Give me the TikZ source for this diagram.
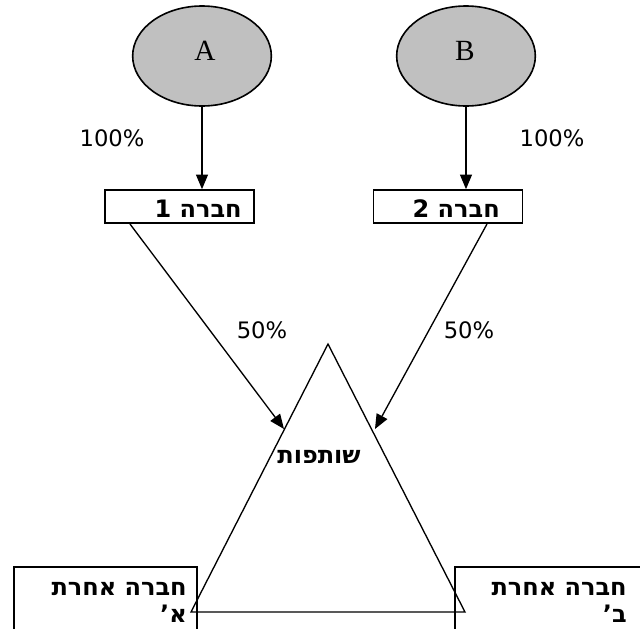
\documentclass[tikz,border=0pt]{standalone}
\usepackage{fontspec}
\setmainfont{Liberation Serif}
\newfontfamily\hebfont[Script=Hebrew]{DejaVu Sans}
\newfontfamily\numfont{DejaVu Sans}
\TeXXeTstate=1
\usetikzlibrary{shapes.geometric,arrows.meta}
\definecolor{ellgray}{HTML}{C0C0C0}
\begin{document}
\begin{tikzpicture}[x=0.75pt,y=-0.75pt,
  owner/.style={ellipse,draw,line width=1.2pt,fill=ellgray,inner sep=0pt,
    minimum width=104pt,minimum height=75pt},
  ownertext/.style={font=\fontsize{22}{24}\selectfont,inner sep=0pt},
  cobox/.style={draw,line width=1.2pt,inner sep=0pt,minimum width=111.75pt,minimum height=24.75pt},
  heb/.style={font=\hebfont\bfseries\fontsize{18}{22}\selectfont,inner sep=0pt},
  pct/.style={font=\numfont\fontsize{17}{20}\selectfont,inner sep=0pt},
  arr/.style={line width=1pt,-{Triangle[length=11pt,width=9pt]}}]
\useasboundingbox (0,0) rectangle (640,629);
% owners
\node[owner] (A) at (202,56) {};
\node[owner] (B) at (466,56) {};
\node[ownertext] (At) at (205,51) {A};
\node[ownertext] (Bt) at (465,51) {B};
% companies
\node[cobox] (b1) at (179.5,206.5) {};
\node[cobox] (b2) at (448,206.5) {};
\node[heb,anchor=base east] (t1) at (242,217) {\beginR חברה 1\endR};
\node[heb,anchor=base east] (t2) at (500,217) {\beginR חברה 2\endR};
% partnership triangle
\coordinate (apex) at (328,344);
\coordinate (bl) at (191,612);
\coordinate (br) at (465,612);
\draw[line width=1pt] (apex) -- (bl) -- (br) -- cycle;
\node[heb] (p) at (319,457) {\beginR שותפות\endR};
% percentages
\node[pct] (p1) at (112,138) {100\%};
\node[pct] (p2) at (552,138) {100\%};
\node[pct] (p3) at (262,330) {50\%};
\node[pct] (p4) at (469,330) {50\%};
% arrows
\draw[arr] (A.south) -- (A.south |- b1.north);
\draw[arr] (B.south) -- (B.south |- b2.north);
\coordinate (s1) at (130,224);
\coordinate (e1) at (284,429);
\coordinate (s2) at (487,224);
\coordinate (e2) at (375,429);
\draw[arr] (s1) -- (e1);
\draw[arr] (s2) -- (e2);
% other companies
\draw[line width=1.2pt] (14,660) |- (197,567) -- (197,660);
\draw[line width=1.2pt] (455,660) |- (646,567) -- (646,660);
\node[heb,anchor=base east] (oa1) at (187,595) {\beginR חברה אחרת\endR};
\node[heb,anchor=base east] (oa2) at (187,622) {\beginR א’\endR};
\node[heb,anchor=base east] (ob1) at (627,595) {\beginR חברה אחרת\endR};
\node[heb,anchor=base east] (ob2) at (627,622) {\beginR ב’\endR};
\end{tikzpicture}
\end{document}
